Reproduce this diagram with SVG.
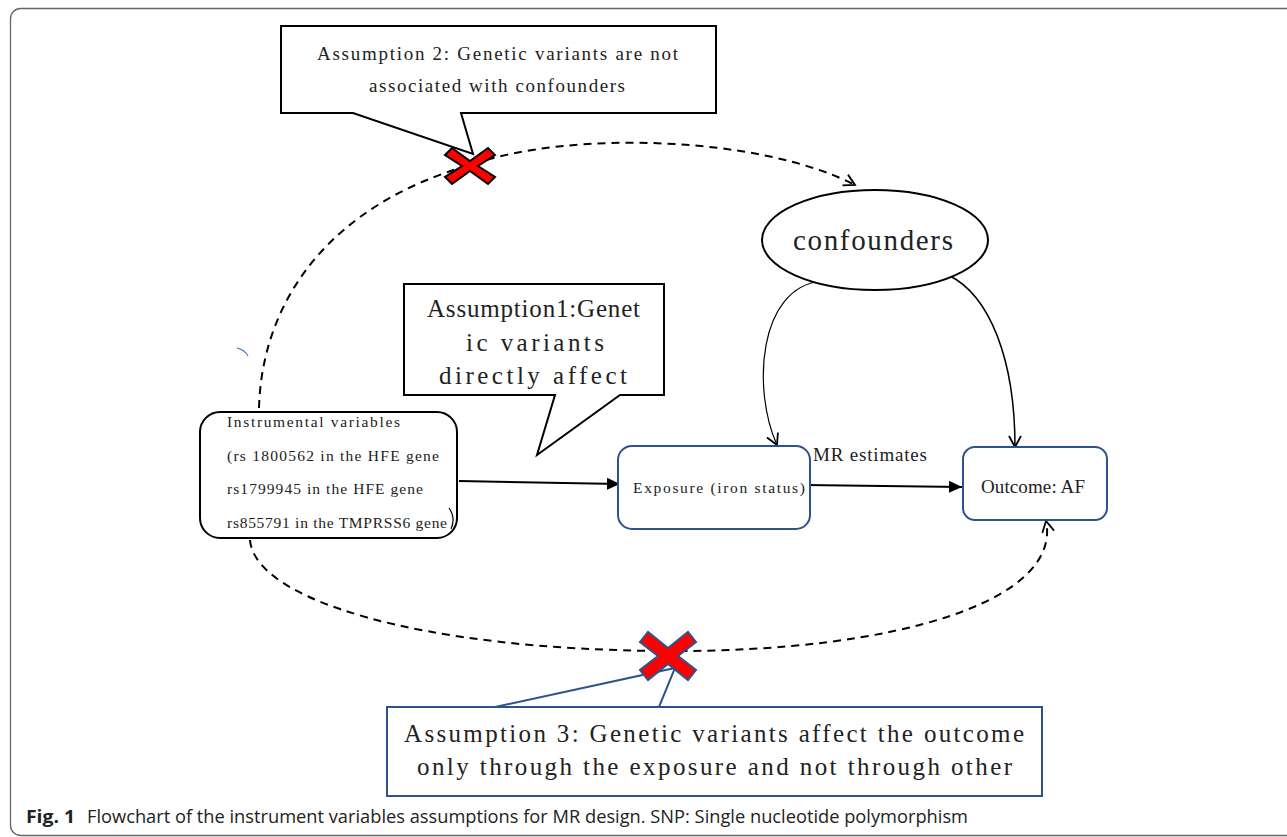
<svg xmlns="http://www.w3.org/2000/svg" width="1287" height="837" viewBox="0 0 1287 837">
<style>
.t{font-family:"Liberation Serif","DejaVu Serif",serif;fill:#222;}
.box{fill:#fff;stroke:#000;stroke-width:2;}
.bbox{fill:#fff;stroke:#2F528F;stroke-width:2;}
.dash{fill:none;stroke:#000;stroke-width:2;stroke-dasharray:8 6;}
.solid{fill:none;stroke:#000;stroke-width:2;}
.thin{fill:none;stroke:#000;stroke-width:1.2;}
.cap{font-family:"Open Sans","Noto Sans",sans-serif;fill:#222;font-size:18px;}
</style>
<defs>
<marker id="fill" markerUnits="userSpaceOnUse" markerWidth="14" markerHeight="14" viewBox="0 0 14 14" refX="13" refY="7" orient="auto">
<path d="M0,1 L13,7 L0,13 Z" fill="#000"/>
</marker>
<marker id="open" markerUnits="userSpaceOnUse" markerWidth="16" markerHeight="16" viewBox="0 0 16 16" refX="14" refY="8" orient="auto">
<path d="M3,2 L14,8 L3,14" fill="none" stroke="#000" stroke-width="1.8"/>
</marker>
</defs>
<rect x="10.5" y="8.5" width="1290" height="827" rx="10" fill="#fff" stroke="#666" stroke-width="1.3"/>

<g id="connectors">
<path class="dash" d="M259,408 C262,300 330,205 470,165 C570,130 760,136 855,185" marker-end="url(#open)"/>
<path class="dash" d="M250,540 C255,600 420,650 667,651 C900,652 1062,600 1046,521" marker-end="url(#open)"/>
<path class="solid" d="M459,481 L620,484" marker-end="url(#fill)"/>
<path class="solid" d="M805,485 L962,487" marker-end="url(#fill)"/>
<path class="thin" d="M822,281 C758,287 752,390 777,445" marker-end="url(#open)"/>
<path class="thin" style="stroke-width:1.5" d="M948,275 C990,295 1015,360 1015,447" marker-end="url(#open)"/>
<path d="M237,348 Q245,350 248,356" fill="none" stroke="#4472C4" stroke-width="1.2"/>
</g>

<g id="assumption2">
<polygon class="box" points="281,26 716,26 716,113 461,113 473,154 353,113 281,113"/>
<text class="t" x="317" y="60" font-size="19" textLength="361" lengthAdjust="spacing">Assumption 2: Genetic variants are not</text>
<text class="t" x="369" y="92" font-size="19" textLength="256" lengthAdjust="spacing">associated with confounders</text>
</g>
<g id="cross1">
<polygon transform="translate(470,166)" points="-25,-11 -18,-18 0,-5 18,-18 25,-11 8,0 25,11 18,18 0,5 -18,18 -25,11 -8,0" fill="#f00" stroke="#000" stroke-width="2"/>
</g>

<g id="assumption1">
<polygon class="box" points="404,284 664,284 664,395 620,395 537,455 555,395 404,395"/>
<text class="t" x="427" y="317" font-size="25" textLength="213" lengthAdjust="spacing">Assumption1:Genet</text>
<text class="t" x="466" y="351" font-size="25" textLength="138" lengthAdjust="spacing">ic variants</text>
<text class="t" x="439" y="384" font-size="25" textLength="188" lengthAdjust="spacing">directly affect</text>
</g>

<g id="instruments">
<rect class="box" x="200" y="412" width="257" height="126" rx="20"/>
<text class="t" x="227" y="427" font-size="15.5" textLength="173" lengthAdjust="spacing">Instrumental variables</text>
<text class="t" x="227" y="461" font-size="15.5" textLength="212" lengthAdjust="spacing">(rs 1800562 in the HFE gene</text>
<text class="t" x="227" y="494" font-size="15.5" textLength="196" lengthAdjust="spacing">rs1799945 in the HFE gene</text>
<text class="t" x="227" y="528" font-size="15.5" textLength="220" lengthAdjust="spacing">rs855791 in the TMPRSS6 gene</text>
<path d="M449,508 Q456,518 451,529" fill="none" stroke="#000" stroke-width="1.2"/>
</g>

<g id="exposure">
<rect class="bbox" x="618" y="446" width="192" height="83" rx="14"/>
<text class="t" x="633" y="493" font-size="15.5" textLength="172" lengthAdjust="spacing">Exposure (iron status)</text>
</g>

<g id="mrlabel">
<text class="t" x="813" y="461" font-size="19" textLength="114" lengthAdjust="spacing">MR estimates</text>
</g>

<g id="outcome">
<rect class="bbox" x="963" y="447" width="144" height="73" rx="12"/>
<text class="t" x="981" y="493" font-size="19" textLength="104" lengthAdjust="spacing">Outcome: AF</text>
</g>

<g id="confounders">
<ellipse cx="875" cy="240" rx="113" ry="50" fill="#fff" stroke="#000" stroke-width="2"/>
<text class="t" x="793" y="250" font-size="29" textLength="160" lengthAdjust="spacing">confounders</text>
</g>

<g id="assumption3">
<polygon class="bbox" points="387,707 1042,707 1042,796 387,796 387,707 495,707 675,668 659,707"/>
<text class="t" x="404" y="742" font-size="25" textLength="620" lengthAdjust="spacing">Assumption 3: Genetic variants affect the outcome</text>
<text class="t" x="417" y="775" font-size="25" textLength="595" lengthAdjust="spacing">only through the exposure and not through other</text>
</g>
<g id="cross2">
<polygon transform="translate(668,656)" points="-28,-14 -20,-24 0,-8 20,-24 28,-14 10,0 28,14 20,24 0,8 -20,24 -28,14 -10,0" fill="#f00" stroke="#2F528F" stroke-width="2"/>
</g>

<g id="caption">
<text class="cap" x="26" y="823" font-weight="bold" textLength="49" lengthAdjust="spacingAndGlyphs">Fig. 1</text>
<text class="cap" x="87" y="823" textLength="881" lengthAdjust="spacingAndGlyphs">Flowchart of the instrument variables assumptions for MR design. SNP: Single nucleotide polymorphism</text>
</g>
</svg>
